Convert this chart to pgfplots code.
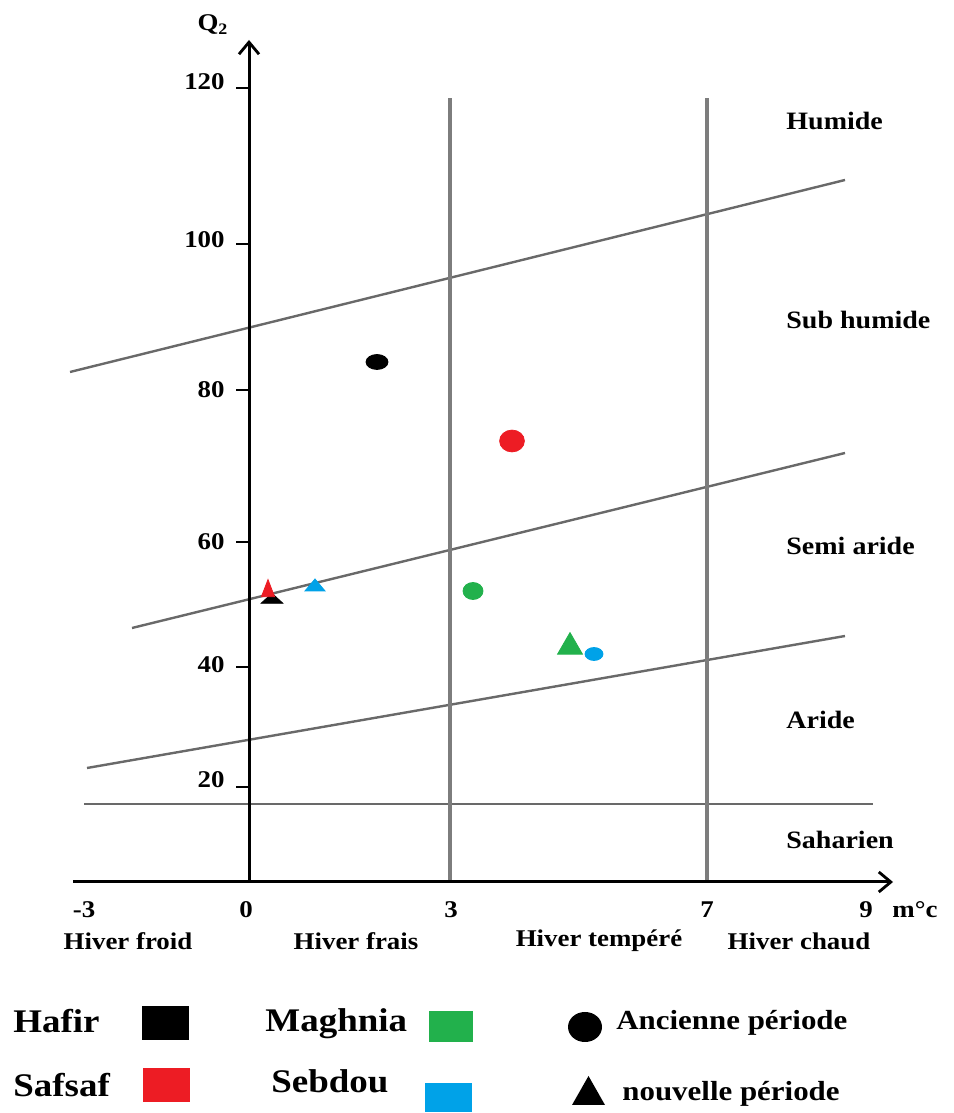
\documentclass[border=0pt]{standalone}
\usepackage{fontspec}
\setmainfont{Liberation Serif}[FakeStretch=1.12]
\usepackage{pgfplots}
\pgfplotsset{compat=1.18}
\usetikzlibrary{arrows.meta}
\definecolor{cred}{RGB}{237,28,36}
\definecolor{cgreen}{RGB}{34,177,76}
\definecolor{cblue}{RGB}{0,162,232}
\definecolor{gline}{RGB}{125,125,125}
\definecolor{oline}{RGB}{105,105,105}
\tikzset{
  ticklab/.style={font=\fontsize{12}{14}\selectfont\bfseries, inner sep=0pt},
  hiv/.style={font=\fontsize{12}{14}\selectfont\bfseries, inner sep=0pt},
  zone/.style={font=\fontsize{12.5}{15}\selectfont\bfseries, anchor=west, inner sep=0pt},
  leg/.style={font=\fontsize{16.5}{19}\selectfont\bfseries, anchor=base west, inner sep=0pt},
  per/.style={font=\fontsize{13.8}{17}\selectfont\bfseries, anchor=base west, inner sep=0pt}}
\begin{document}
\begin{tikzpicture}
\begin{axis}[width=476.5pt, height=556.5pt, scale only axis,
  xmin=0, xmax=953, ymin=0, ymax=1113, hide axis, clip=false]
\path (axis cs:0,0) rectangle (axis cs:953,1113);
% zone boundaries (Emberger)
\addplot[oline, line width=1.2pt] coordinates {(70,741) (845,933)};
\addplot[oline, line width=1.2pt] coordinates {(132,485) (845,660)};
\addplot[oline, line width=1.2pt] coordinates {(87,345) (845,477)};
\addplot[oline, line width=1.2pt] coordinates {(84,309) (873,309)};
% winter variants
\addplot[gline, line width=1.6pt] coordinates {(450,231) (450,1015)};
\addplot[gline, line width=1.6pt] coordinates {(707,231) (707,1015)};
% axes
\draw[line width=1.5pt, -{Straight Barb[length=6pt,width=10pt,line width=1.4pt]}] (axis cs:73,231) -- (axis cs:893,231);
\draw[line width=1.5pt, -{Straight Barb[length=6pt,width=10pt,line width=1.4pt]}] (axis cs:249,231) -- (axis cs:249,1073);
% y ticks
\draw[line width=1pt] (axis cs:236,1025) -- (axis cs:249,1025);
\draw[line width=1pt] (axis cs:236,869) -- (axis cs:249,869);
\draw[line width=1pt] (axis cs:236,723) -- (axis cs:249,723);
\draw[line width=1pt] (axis cs:236,571) -- (axis cs:249,571);
\draw[line width=1pt] (axis cs:236,446) -- (axis cs:249,446);
\draw[line width=1pt] (axis cs:236,326) -- (axis cs:249,326);
\node[ticklab, anchor=east] at (axis cs:225,1031) {120};
\node[ticklab, anchor=east] at (axis cs:225,873) {100};
\node[ticklab, anchor=east] at (axis cs:225,723) {80};
\node[ticklab, anchor=east] at (axis cs:225,571) {60};
\node[ticklab, anchor=east] at (axis cs:225,448) {40};
\node[ticklab, anchor=east] at (axis cs:225,333) {20};
\node[ticklab] at (axis cs:213,1088) {Q\textsubscript{2}};
% x ticks
\node[ticklab] at (axis cs:84,203) {-3};
\node[ticklab] at (axis cs:246,203) {0};
\node[ticklab] at (axis cs:451,203) {3};
\node[ticklab] at (axis cs:707,203) {7};
\node[ticklab] at (axis cs:866,203) {9};
\node[ticklab, anchor=west] at (axis cs:892,203) {m°c};
\node[hiv] at (axis cs:128,172) {Hiver froid};
\node[hiv] at (axis cs:356,172) {Hiver frais};
\node[hiv] at (axis cs:599,172) {Hiver tempéré};
\node[hiv] at (axis cs:799,172) {Hiver chaud};
% zone names
\node[zone] at (axis cs:786,992) {Humide};
\node[zone] at (axis cs:786,793) {Sub humide};
\node[zone] at (axis cs:786,567) {Semi aride};
\node[zone] at (axis cs:786,393) {Aride};
\node[zone] at (axis cs:786,273) {Saharien};
% ancienne periode (circles)
\addplot[only marks, mark=*, color=black, mark size=5.5pt, mark options={yscale=0.68}] coordinates {(377,751)};
\addplot[only marks, mark=*, color=cred, mark size=6.2pt, mark options={yscale=0.88}] coordinates {(512,672)};
\addplot[only marks, mark=*, color=cgreen, mark size=5pt, mark options={yscale=0.85}] coordinates {(473,522)};
\addplot[only marks, mark=*, color=cblue, mark size=4.5pt, mark options={yscale=0.72}] coordinates {(594,459)};
% nouvelle periode (triangles)
\addplot[only marks, mark=triangle*, color=black, mark size=6.3pt, mark options={yscale=0.53}] coordinates {(272,513)};
\addplot[only marks, mark=triangle*, color=cred, mark size=3.8pt, mark options={yscale=1.5}] coordinates {(268,522)};
\addplot[only marks, mark=triangle*, color=cblue, mark size=5.8pt, mark options={yscale=0.69}] coordinates {(315,526)};
\addplot[only marks, mark=triangle*, color=cgreen, mark size=7.2pt] coordinates {(570,466)};
% legend
\node[leg] at (axis cs:13,80) {Hafir};
\fill[black] (axis cs:142,73) rectangle (axis cs:189,107);
\node[leg] at (axis cs:13,17) {Safsaf};
\fill[cred] (axis cs:143,11) rectangle (axis cs:190,45);
\node[leg] at (axis cs:265,81) {Maghnia};
\fill[cgreen] (axis cs:429,71) rectangle (axis cs:473,102);
\node[leg] at (axis cs:271,20) {Sebdou};
\fill[cblue] (axis cs:425,1) rectangle (axis cs:472,30);
\fill[black] (axis cs:585,86) ellipse [x radius=8.5pt, y radius=7.5pt];
\node[per] at (axis cs:616,83) {Ancienne période};
\fill[black] (axis cs:572,8) -- (axis cs:605,8) -- (axis cs:588.5,37) -- cycle;
\node[per] at (axis cs:622,12) {nouvelle période};
\end{axis}
\end{tikzpicture}
\end{document}
